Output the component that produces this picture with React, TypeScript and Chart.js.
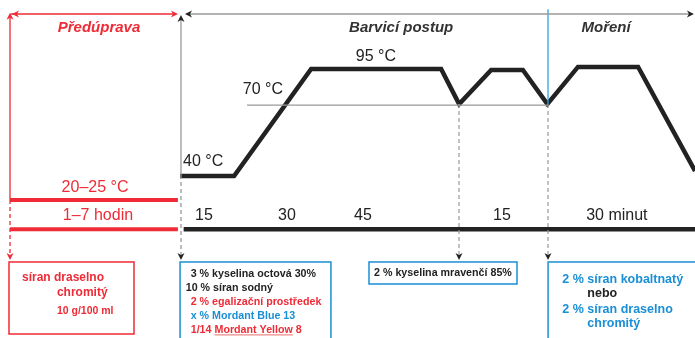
import React, { useEffect, useRef } from "react";
import { Chart, registerables } from "chart.js";
Chart.register(...registerables);

// ---------- data (schematic time in minutes, schematic temperature level) ----------
const profileMinutes = [0, 15, 36.4, 72.5, 77.5, 86.4, 95.2, 102, 110.5, 127.2, 143];
const profileLevel = [47.9, 47.9, 79.6, 79.6, 69.2, 79.3, 79.3, 69.2, 80.2, 80.2, 49.4];

const tempLabels = ["40 °C", "70 °C", "95 °C"];
const durationLabels = ["15", "30", "45", "15", "30 minut"];
const phaseLabels = ["Předúprava", "Barvicí postup", "Moření"];
const pretreatLabels = ["20–25 °C", "1–7 hodin"];
const pretreatBox = ["síran draselno", "chromitý", "10 g/100 ml"];
const dyeBox = ["3 % kyselina octová 30%", "10 % síran sodný", "2 % egalizační prostředek", "x % Mordant Blue 13", "1/14 ", "Mordant Yellow", " 8"];
const acidBox = ["2 % kyselina mravenčí 85%"];
const mordantBox = ["2 % síran kobaltnatý", "nebo", "2 % síran draselno", "chromitý"];

// ---------- layout (in scale units) ----------
const X_MIN = -50, X_MAX = 143, Y_MIN = 0, Y_MAX = 100;
const tempLabelPos = [[6.4, 52.1], [23.0, 73.4], [54.4, 83.4]];
const durationPos = [6.65, 29.7, 50.8, 89.4, 121.3];
const durationY = 36.3;
const phasePos = [[-22.5, 91.7], [61.4, 91.7], [118.3, 91.7]];
const pretreatPos = [[-23.6, 44.4], [-22.8, 36.1]];

const RED = "#ee2b36";
const BLUE = "#1a8fd6";
const BLUE_LINE = "#28a9e3";
const GRAY = "#9a9a9a";
const DARK = "#222";
const FONT = "'Liberation Sans', Arial, sans-serif";

function seg(x1: number, y1: number, x2: number, y2: number, color: string, width: number, dash: number[] = []) {
  return {
    data: [{ x: x1, y: y1 }, { x: x2, y: y2 }],
    borderColor: color,
    borderWidth: width,
    borderDash: dash,
    pointRadius: 0,
    fill: false,
    tension: 0,
    borderCapStyle: "butt" as const,
  };
}

const annotations = {
  id: "annotations",
  afterDatasetsDraw(chart: any) {
    const ctx = chart.ctx as CanvasRenderingContext2D;
    const xs = chart.scales.x, ys = chart.scales.y;
    const X = (v: number) => xs.getPixelForValue(v);
    const Y = (v: number) => ys.getPixelForValue(v);
    ctx.save();

    const arrow = (xv: number, yv: number, dir: string, color: string) => {
      const x = X(xv), y = Y(yv), L = 7, W = 3.5;
      ctx.fillStyle = color;
      ctx.beginPath();
      ctx.moveTo(x, y);
      if (dir === "up") { ctx.lineTo(x - W, y + L); ctx.lineTo(x, y + L - 2); ctx.lineTo(x + W, y + L); }
      if (dir === "down") { ctx.lineTo(x - W, y - L); ctx.lineTo(x, y - L + 2); ctx.lineTo(x + W, y - L); }
      if (dir === "left") { ctx.lineTo(x + L, y - W); ctx.lineTo(x + L - 2, y); ctx.lineTo(x + L, y + W); }
      if (dir === "right") { ctx.lineTo(x - L, y - W); ctx.lineTo(x - L + 2, y); ctx.lineTo(x - L, y + W); }
      ctx.closePath();
      ctx.fill();
    };
    arrow(-47.22, 96.2, "up", RED);
    arrow(-46.67, 95.86, "left", RED);
    arrow(-0.57, 95.86, "right", RED);
    arrow(0.26, 95.56, "up", DARK);
    arrow(1.37, 95.86, "left", DARK);
    arrow(142.7, 95.86, "right", DARK);
    arrow(-47.22, 23.08, "down", RED);
    arrow(0.26, 23.08, "down", DARK);
    arrow(77.47, 23.08, "down", DARK);
    arrow(102.18, 23.08, "down", DARK);

    // boxes
    const box = (x1: number, y1: number, x2: number, y2: number, color: string) => {
      ctx.strokeStyle = color;
      ctx.lineWidth = 1.5;
      ctx.setLineDash([]);
      ctx.strokeRect(X(x1), Y(y1), X(x2) - X(x1), Y(y2) - Y(y1));
    };
    box(-47.5, 22.49, -12.79, 1.18, RED);
    box(0, 22.49, 41.9, -2, BLUE);
    box(52.47, 22.49, 93.57, 15.98, BLUE);
    box(102.2, 22.49, 150, -2, BLUE);

    const text = (s: string, xv: number, yv: number, color: string, font: string, align: CanvasTextAlign = "left") => {
      ctx.fillStyle = color;
      ctx.font = font;
      ctx.textAlign = align;
      ctx.textBaseline = "middle";
      ctx.fillText(s, X(xv), Y(yv));
      return ctx.measureText(s).width;
    };

    // phase titles
    text(phaseLabels[0], phasePos[0][0], phasePos[0][1], RED, `italic bold 15px ${FONT}`, "center");
    text(phaseLabels[1], phasePos[1][0], phasePos[1][1], "#333", `italic bold 15px ${FONT}`, "center");
    text(phaseLabels[2], phasePos[2][0], phasePos[2][1], "#333", `italic bold 15px ${FONT}`, "center");

    // temperature labels
    tempLabels.forEach((t, i) => text(t, tempLabelPos[i][0], tempLabelPos[i][1], DARK, `16px ${FONT}`, "center"));
    // duration labels
    durationLabels.forEach((t, i) => text(t, durationPos[i], durationY, DARK, `16px ${FONT}`, "center"));
    // pretreatment labels
    pretreatLabels.forEach((t, i) => text(t, pretreatPos[i][0], pretreatPos[i][1], RED, `16px ${FONT}`, "center"));

    // red box text
    text(pretreatBox[0], -43.9, 17.75, RED, `bold 12px ${FONT}`);
    text(pretreatBox[1], -34.2, 13.3, RED, `bold 12px ${FONT}`);
    text(pretreatBox[2], -34.2, 8.0, RED, `bold 10.5px ${FONT}`);

    // dye box text
    const f11 = `bold 10.7px ${FONT}`;
    text(dyeBox[0], 2.96, 18.85, DARK, f11);
    text(dyeBox[1], 1.57, 14.7, DARK, f11);
    text(dyeBox[2], 2.96, 10.56, RED, f11);
    text(dyeBox[3], 2.96, 6.5, BLUE, f11);
    const w1 = text(dyeBox[4], 2.96, 2.37, RED, f11);
    const x0 = X(2.96) + w1;
    ctx.font = f11;
    const w2 = ctx.measureText(dyeBox[5]).width;
    ctx.fillStyle = RED;
    ctx.fillText(dyeBox[5], x0, Y(2.37));
    ctx.fillText(dyeBox[6], x0 + w2, Y(2.37));
    ctx.strokeStyle = "#f08a8a";
    ctx.lineWidth = 1.2;
    ctx.beginPath();
    ctx.moveTo(x0, Y(0.9));
    ctx.lineTo(x0 + w2, Y(0.9));
    ctx.stroke();

    // acid box
    text(acidBox[0], 53.86, 19.15, DARK, f11);

    // mordant box
    const f12 = `bold 12.5px ${FONT}`;
    text(mordantBox[0], 106.15, 17.37, BLUE, f12);
    text(mordantBox[1], 113.1, 13.2, DARK, f12);
    text(mordantBox[2], 106.15, 8.5, BLUE, f12);
    text(mordantBox[3], 113.1, 4.35, BLUE, f12);

    ctx.restore();
  },
};

export default function App() {
  const ref = useRef<HTMLCanvasElement | null>(null);
  useEffect(() => {
    document.body.style.margin = "0";
    const profile = profileMinutes.map((m, i) => ({ x: m, y: profileLevel[i] }));
    const chart = new Chart(ref.current as HTMLCanvasElement, {
      type: "line",
      data: {
        datasets: [
          // top phase arrows
          seg(-47.0, 95.86, -1.2, 95.86, RED, 1.5),
          seg(1.8, 95.86, 142.2, 95.86, GRAY, 1.5),
          // pretreatment vertical (solid then dashed)
          seg(-47.22, 95.5, -47.22, 40.8, RED, 1.3),
          seg(-47.22, 40.8, -47.22, 24.6, RED, 1.3, [4, 3]),
          // dyeing start vertical
          seg(0.26, 94.5, 0.26, 48.2, GRAY, 1.3),
          seg(0.26, 48.2, 0.26, 24.6, GRAY, 1.3, [4, 3]),
          // mordanting start (blue) and dashed drops
          seg(102.18, 97.3, 102.18, 69.2, BLUE_LINE, 1.3),
          seg(102.18, 69.2, 102.18, 24.6, GRAY, 1.2, [4, 3]),
          seg(77.47, 69.2, 77.47, 24.6, GRAY, 1.2, [4, 3]),
          // 70 °C reference
          seg(18.6, 68.9, 102.2, 68.9, GRAY, 1.3),
          // pretreatment bars
          seg(-47.2, 40.8, -0.6, 40.8, RED, 4),
          seg(-47.2, 32.2, -0.6, 32.2, RED, 4),
          // time bar
          seg(1.0, 32.2, 143, 32.2, DARK, 4.5),
          // temperature profile
          {
            data: profile,
            borderColor: DARK,
            borderWidth: 4.5,
            pointRadius: 0,
            fill: false,
            tension: 0,
            borderJoinStyle: "miter" as const,
          },
        ],
      },
      options: {
        animation: false,
        responsive: false,
        maintainAspectRatio: false,
        layout: { padding: 0 },
        plugins: { legend: { display: false }, tooltip: { enabled: false } },
        scales: {
          x: { type: "linear", min: X_MIN, max: X_MAX, display: false },
          y: { type: "linear", min: Y_MIN, max: Y_MAX, display: false },
        },
      },
      plugins: [annotations],
    });
    return () => chart.destroy();
  }, []);
  return (
    <div style={{ position: "absolute", left: 0, top: 0, width: 695, height: 338, background: "#fff" }}>
      <canvas ref={ref} width={695} height={338} />
    </div>
  );
}
